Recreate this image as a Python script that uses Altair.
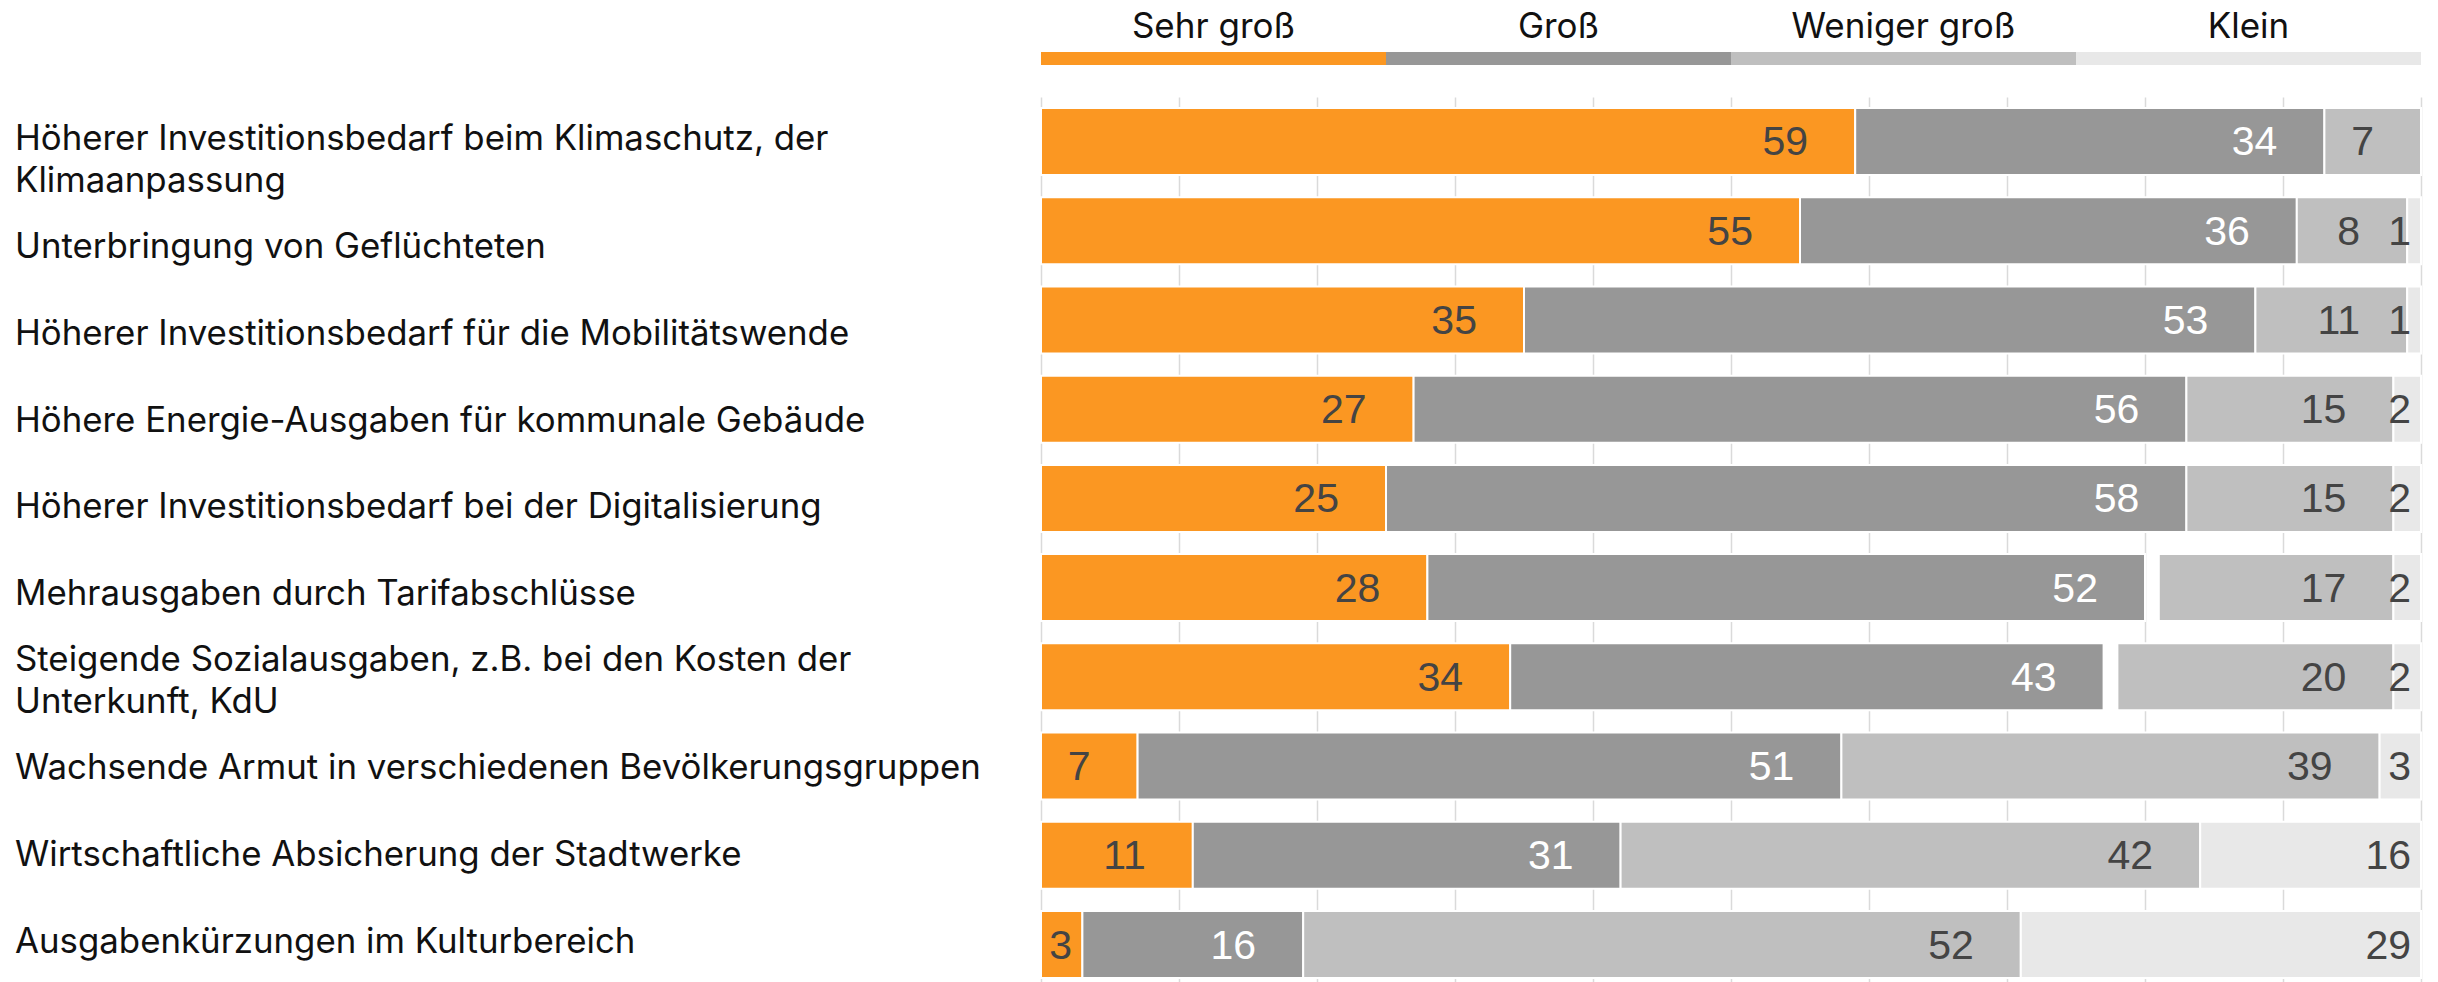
import altair as alt
import pandas as pd

# ---------------- data ----------------
categories = ["Sehr groß", "Groß", "Weniger groß", "Klein"]
colors = ["#FB9722", "#979797", "#BFBFBF", "#E8E8E8"]

items = [
    "Höherer Investitionsbedarf beim Klimaschutz, der\nKlimaanpassung",
    "Unterbringung von Geflüchteten",
    "Höherer Investitionsbedarf für die Mobilitätswende",
    "Höhere Energie-Ausgaben für kommunale Gebäude",
    "Höherer Investitionsbedarf bei der Digitalisierung",
    "Mehrausgaben durch Tarifabschlüsse",
    "Steigende Sozialausgaben, z.B. bei den Kosten der\nUnterkunft, KdU",
    "Wachsende Armut in verschiedenen Bevölkerungsgruppen",
    "Wirtschaftliche Absicherung der Stadtwerke",
    "Ausgabenkürzungen im Kulturbereich",
]
sehr_gross = [59, 55, 35, 27, 25, 28, 34, 7, 11, 3]
gross = [34, 36, 53, 56, 58, 52, 43, 51, 31, 16]
ohne_angabe = [0, 0, 0, 0, 0, 1, 1, 0, 0, 0]  # blank gap in the bar
weniger_gross = [7, 8, 11, 15, 15, 17, 20, 39, 42, 52]
klein = [0, 1, 1, 2, 2, 2, 2, 3, 16, 29]

# ---------------- long table ----------------
rows = []
for i, item in enumerate(items):
    start = 0
    for cat, v in [("Sehr groß", sehr_gross[i]), ("Groß", gross[i]),
                   ("k. A.", ohne_angabe[i]), ("Weniger groß", weniger_gross[i]),
                   ("Klein", klein[i])]:
        if v > 0 and cat != "k. A.":
            rows.append(dict(item=item, cat=cat, value=v, start=start, end=start + v))
        start += v
bars_df = pd.DataFrame(rows)
label_df = pd.DataFrame({"item": items, "lines": [s.count("\n") + 1 for s in items]})
legend_df = pd.DataFrame({"cat": categories, "idx": list(range(len(categories)))})

# ---------------- scales ----------------
x_scale = alt.Scale(domain=[0, 100], nice=False, zero=True)
x_axis = alt.Axis(grid=True, labels=False, ticks=False, domain=False, title=None,
                  values=list(range(0, 101, 10)), gridColor="#DADADA", gridWidth=1.5)
y_band = alt.Scale(type="band", paddingInner=0.2493, paddingOuter=0.1233)
y_point = alt.Scale(type="point", padding=0.6323, align=0.5814)
color_scale = alt.Scale(domain=categories, range=colors)

base = alt.Chart(bars_df)
bars = base.mark_bar(stroke="white", strokeWidth=2).encode(
    x=alt.X("start:Q", scale=x_scale, axis=x_axis),
    x2="end:Q",
    y=alt.Y("item:N", sort=items, scale=y_band, axis=None),
    color=alt.Color("cat:N", scale=color_scale, legend=None),
)

vals = base.transform_calculate(
    lx="datum.cat === 'Klein' ? datum.end - 0.72 : max(datum.end - 3.41, datum.start + 2.25)"
).mark_text(align="right", baseline="middle", font="Liberation Sans", fontSize=41, dy=2).encode(
    x=alt.X("lx:Q", scale=x_scale, axis=x_axis),
    y=alt.Y("item:N", sort=items, scale=y_band, axis=None),
    text=alt.Text("value:Q"),
    color=alt.condition("datum.cat === 'Groß'", alt.value("white"), alt.value("#444444")),
)

label_base = alt.Chart(label_df)
label_style = dict(align="left", baseline="middle", font="Inter", fontSize=34.8,
                   lineHeight=42, lineBreak="\n", color="#111111")
labels_one = label_base.transform_filter("datum.lines === 1").mark_text(**label_style).encode(
    x=alt.value(-1026),
    y=alt.Y("item:N", sort=items, scale=y_point, axis=None),
    text="item:N",
)
labels_two = label_base.transform_filter("datum.lines === 2").mark_text(dy=-21, **label_style).encode(
    x=alt.value(-1026),
    y=alt.Y("item:N", sort=items, scale=y_point, axis=None),
    text="item:N",
)

legend_base = alt.Chart(legend_df).transform_calculate(
    ls="datum.idx * 25", le="datum.idx * 25 + 25", lm="datum.idx * 25 + 12.5"
)
legend_bars = legend_base.mark_bar().encode(
    x=alt.X("ls:Q", scale=x_scale, axis=x_axis),
    x2="le:Q",
    y=alt.value(-45),
    y2=alt.value(-32),
    color=alt.Color("cat:N", scale=color_scale, legend=None),
)
legend_text = legend_base.mark_text(
    align="center", baseline="alphabetic", font="Inter", fontSize=35, color="#111111"
).encode(
    x=alt.X("lm:Q", scale=x_scale, axis=x_axis),
    y=alt.value(-59),
    text="cat:N",
)

chart = alt.layer(
    alt.layer(bars, vals), alt.layer(labels_one, labels_two), legend_bars, legend_text
).resolve_scale(y="independent").properties(
    width=1380, height=892,
    padding={"left": 1033, "top": 89, "right": 9, "bottom": 0},
    autosize=alt.AutoSizeParams(type="none"),
).configure_view(stroke=None)

chart.save("out.html", embed_options={"renderer": "svg", "actions": False})
